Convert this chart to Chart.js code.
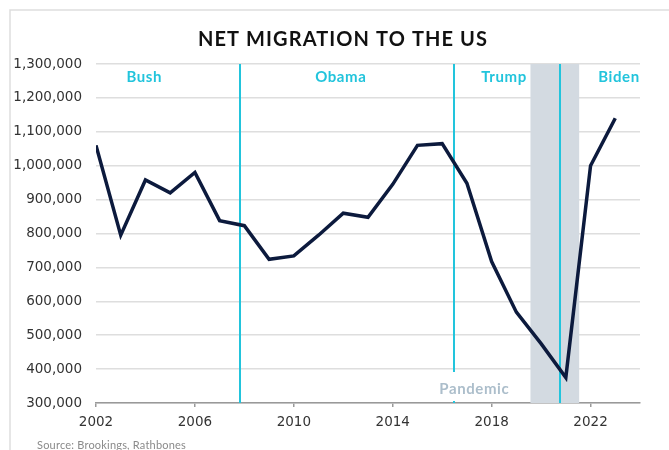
<!DOCTYPE html>
<html>
<head>
<meta charset="utf-8">
<script src="https://cdn.jsdelivr.net/npm/chart.js@4"></script>
<style>
  html, body { margin: 0; padding: 0; background: #fff; }
  #wrap { width: 669px; height: 450px; }
</style>
</head>
<body>
<div id="wrap"><canvas id="chart"></canvas></div>
<script>
const years = [2002, 2003, 2004, 2005, 2006, 2007, 2008, 2009, 2010, 2011, 2012,
    2013, 2014, 2015, 2016, 2017, 2018, 2019, 2020, 2021, 2022, 2023];
const netMigration = [1060000, 795000, 958000, 920000, 980000, 838000, 823000, 724000,
    734000, 795000, 860000, 848000, 945000, 1060000, 1065000, 948000, 717000, 568000,
    475000, 375000, 1000000, 1140000];
const xTickYears = [2002, 2006, 2010, 2014, 2018, 2022];

// presidency boundaries and labels (in years on the x axis)
const termLines = [2007.83, 2016.47, 2020.77];
const termNames = ['Bush', 'Obama', 'Trump', 'Biden'];
const termLabelAt = [2003.95, 2011.9, 2018.5, 2023.15];
const pandemicSpan = [2019.57, 2021.54];
const pandemicLabelAt = 2017.3;

const CYAN = '#22c4dc';

const annotations = {
    id: 'annotations',
    beforeDatasetsDraw(chart) {
        const { ctx, chartArea: a, scales: { x } } = chart;
        ctx.save();
        // pandemic shading
        const s0 = x.getPixelForValue(pandemicSpan[0]);
        const s1 = x.getPixelForValue(pandemicSpan[1]);
        ctx.fillStyle = '#d3dae1';
        ctx.fillRect(s0, a.top, s1 - s0, a.bottom - a.top);
        // term lines
        ctx.strokeStyle = CYAN;
        ctx.lineWidth = 2;
        termLines.forEach(v => {
            const px = Math.round(x.getPixelForValue(v));
            ctx.beginPath();
            ctx.moveTo(px, a.top);
            ctx.lineTo(px, a.bottom);
            ctx.stroke();
        });
        // pandemic label box
        const pl = x.getPixelForValue(pandemicLabelAt);
        ctx.fillStyle = '#fff';
        ctx.fillRect(pl - 40, a.bottom - 31, 80, 29);
        ctx.font = 'bold 15px Lato';
        ctx.letterSpacing = '0.6px';
        ctx.textAlign = 'center';
        ctx.textBaseline = 'middle';
        ctx.fillStyle = '#acbecb';
        ctx.fillText('Pandemic', pl, a.bottom - 14);
        // term labels
        ctx.fillStyle = CYAN;
        termNames.forEach((name, i) => {
            ctx.fillText(name, x.getPixelForValue(termLabelAt[i]), a.top + 13);
        });
        ctx.restore();
    },
    afterDraw(chart) {
        const { ctx } = chart;
        ctx.save();
        // frame
        ctx.strokeStyle = '#dedede';
        ctx.lineWidth = 1.5;
        ctx.beginPath();
        ctx.moveTo(10, 460);
        ctx.lineTo(10, 10);
        ctx.lineTo(680, 10);
        ctx.stroke();
        // title
        ctx.font = 'bold 20px Lato';
        ctx.letterSpacing = '1.1px';
        ctx.fillStyle = '#111';
        ctx.textAlign = 'center';
        ctx.textBaseline = 'middle';
        ctx.fillText('NET MIGRATION TO THE US', 343, 40);
        // source
        ctx.font = '11px Lato';
        ctx.letterSpacing = '0.2px';
        ctx.fillStyle = '#8a8a8a';
        ctx.textAlign = 'left';
        ctx.fillText('Source: Brookings, Rathbones', 37, 445);
        ctx.restore();
    }
};

new Chart(document.getElementById('chart'), {
    type: 'line',
    data: {
        datasets: [{
            data: years.map((y, i) => ({ x: y, y: netMigration[i] })),
            borderColor: '#0c1a3d',
            borderWidth: 3.5,
            pointRadius: 0,
            tension: 0
        }]
    },
    options: {
        responsive: true,
        maintainAspectRatio: false,
        animation: false,
        layout: { padding: { top: 64, right: 29, left: 0, bottom: 0 } },
        plugins: {
            legend: { display: false },
            tooltip: { enabled: false }
        },
        scales: {
            x: {
                type: 'linear',
                min: 2002,
                max: 2024,
                afterBuildTicks: scale => {
                    scale.ticks = xTickYears.map(v => ({ value: v }));
                },
                afterFit: scale => { scale.height = 47; },
                grid: { drawOnChartArea: false, tickLength: 4, color: '#999', lineWidth: 1.5 },
                border: { color: '#999', width: 1.5 },
                ticks: {
                    padding: 7,
                    maxRotation: 0,
                    color: '#333',
                    font: { family: 'DejaVu Sans', size: 13.5 },
                    callback: v => String(v)
                }
            },
            y: {
                min: 300000,
                max: 1300000,
                afterFit: scale => { scale.width = 96; },
                grid: { color: '#dedede', lineWidth: 1.5, drawTicks: false },
                border: { display: false },
                ticks: {
                    stepSize: 100000,
                    padding: 14,
                    color: '#333',
                    font: { family: 'DejaVu Sans', size: 13.5 },
                    callback: v => v.toLocaleString('en-US')
                }
            }
        }
    },
    plugins: [annotations]
});
</script>
</body>
</html>
